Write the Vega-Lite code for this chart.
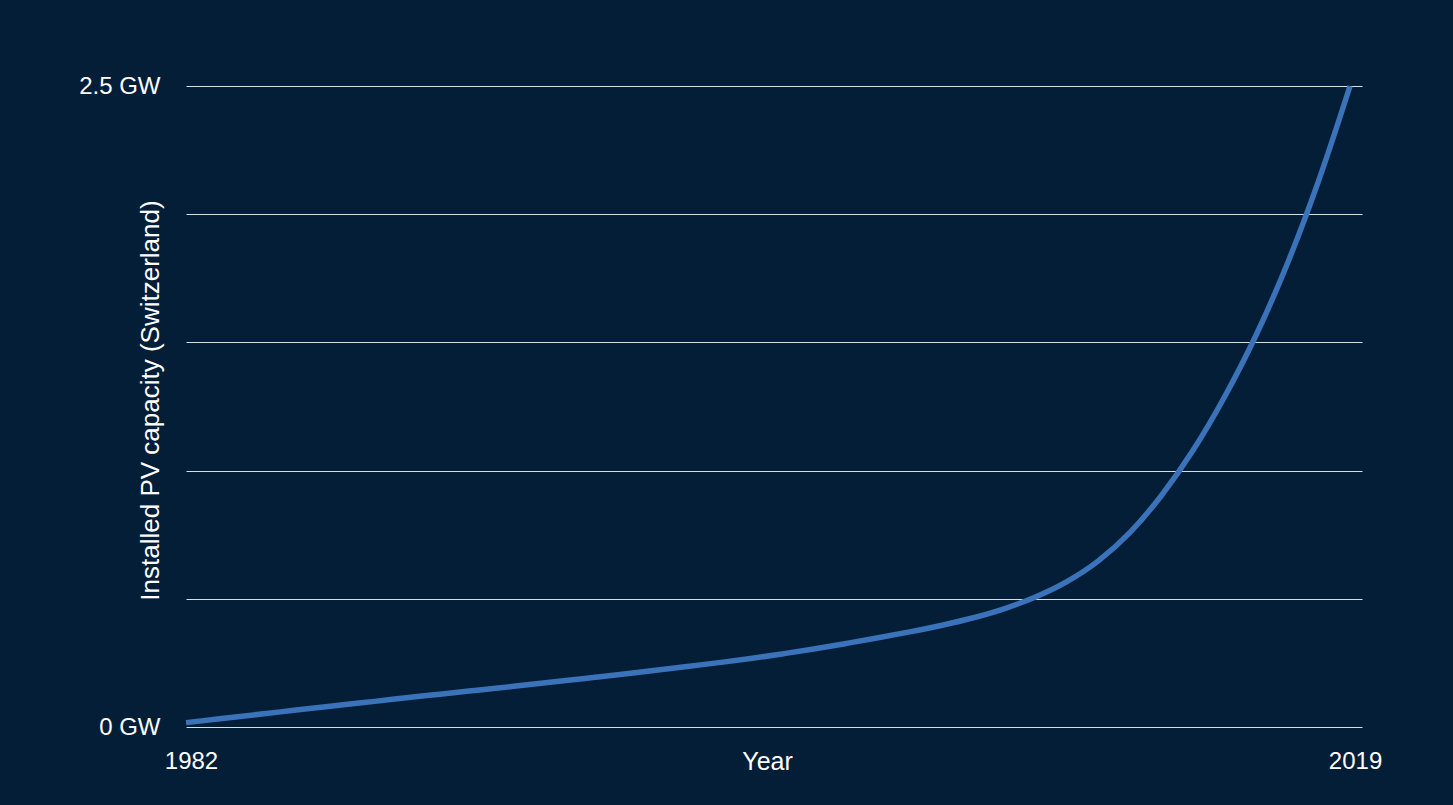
{
  "$schema": "https://vega.github.io/schema/vega-lite/v6.json",
  "width": 1176,
  "height": 641,
  "autosize": {"type": "none"},
  "padding": {"left": 186, "top": 86, "right": 91, "bottom": 78},
  "background": "#041e38",
  "view": {"stroke": null},
  "config": {"font": "Liberation Sans"},
  "data": {
    "values": [
      {"year": 1982, "gw": 0.017},
      {"year": 1983, "gw": 0.031},
      {"year": 1984, "gw": 0.045},
      {"year": 1985, "gw": 0.059},
      {"year": 1986, "gw": 0.073},
      {"year": 1987, "gw": 0.087},
      {"year": 1988, "gw": 0.100},
      {"year": 1989, "gw": 0.114},
      {"year": 1990, "gw": 0.127},
      {"year": 1991, "gw": 0.140},
      {"year": 1992, "gw": 0.153},
      {"year": 1993, "gw": 0.167},
      {"year": 1994, "gw": 0.180},
      {"year": 1995, "gw": 0.194},
      {"year": 1996, "gw": 0.208},
      {"year": 1997, "gw": 0.222},
      {"year": 1998, "gw": 0.237},
      {"year": 1999, "gw": 0.252},
      {"year": 2000, "gw": 0.268},
      {"year": 2001, "gw": 0.286},
      {"year": 2002, "gw": 0.305},
      {"year": 2003, "gw": 0.326},
      {"year": 2004, "gw": 0.348},
      {"year": 2005, "gw": 0.371},
      {"year": 2006, "gw": 0.396},
      {"year": 2007, "gw": 0.425},
      {"year": 2008, "gw": 0.461},
      {"year": 2009, "gw": 0.507},
      {"year": 2010, "gw": 0.567},
      {"year": 2011, "gw": 0.648},
      {"year": 2012, "gw": 0.758},
      {"year": 2013, "gw": 0.902},
      {"year": 2014, "gw": 1.077},
      {"year": 2015, "gw": 1.285},
      {"year": 2016, "gw": 1.525},
      {"year": 2017, "gw": 1.805},
      {"year": 2018, "gw": 2.13},
      {"year": 2019, "gw": 2.50}
    ]
  },
  "mark": {"type": "line", "color": "#3b73ba", "strokeWidth": 5.5, "interpolate": "monotone", "strokeCap": "butt"},
  "encoding": {
    "x": {
      "field": "year",
      "type": "quantitative",
      "scale": {"domain": [1982, 2019.38], "nice": false, "zero": false},
      "axis": {
        "values": [1982, 2019],
        "format": "d",
        "grid": false,
        "domain": false,
        "ticks": false,
        "tickSize": 0,
        "labelPadding": 34,
        "labelBaseline": "middle",
        "labelAlign": "center",
        "labelOffset": 5,
        "labelFontSize": 24,
        "labelColor": "#ffffff",
        "title": "Year",
        "titleFontSize": 25,
        "titleFontWeight": "normal",
        "titleColor": "#ffffff",
        "titleX": 581,
        "titleY": 34,
        "titleBaseline": "middle",
        "titleAlign": "center"
      }
    },
    "y": {
      "field": "gw",
      "type": "quantitative",
      "scale": {"domain": [0, 2.5], "nice": false},
      "axis": {
        "values": [0, 0.5, 1, 1.5, 2, 2.5],
        "labelExpr": "datum.value == 0 ? '0 GW' : (datum.value == 2.5 ? '2.5 GW' : '')",
        "grid": true,
        "gridColor": "#d8dee6",
        "gridWidth": 1.2,
        "domain": false,
        "ticks": false,
        "tickSize": 0,
        "labelPadding": 26,
        "labelFontSize": 24,
        "labelColor": "#ffffff",
        "labelBaseline": "middle",
        "title": "Installed PV capacity (Switzerland)",
        "titleFontSize": 26,
        "titleFontWeight": "normal",
        "titleColor": "#ffffff",
        "titleAngle": -90,
        "titleX": -36,
        "titleY": 314,
        "titleBaseline": "middle",
        "titleAlign": "center"
      }
    }
  }
}
